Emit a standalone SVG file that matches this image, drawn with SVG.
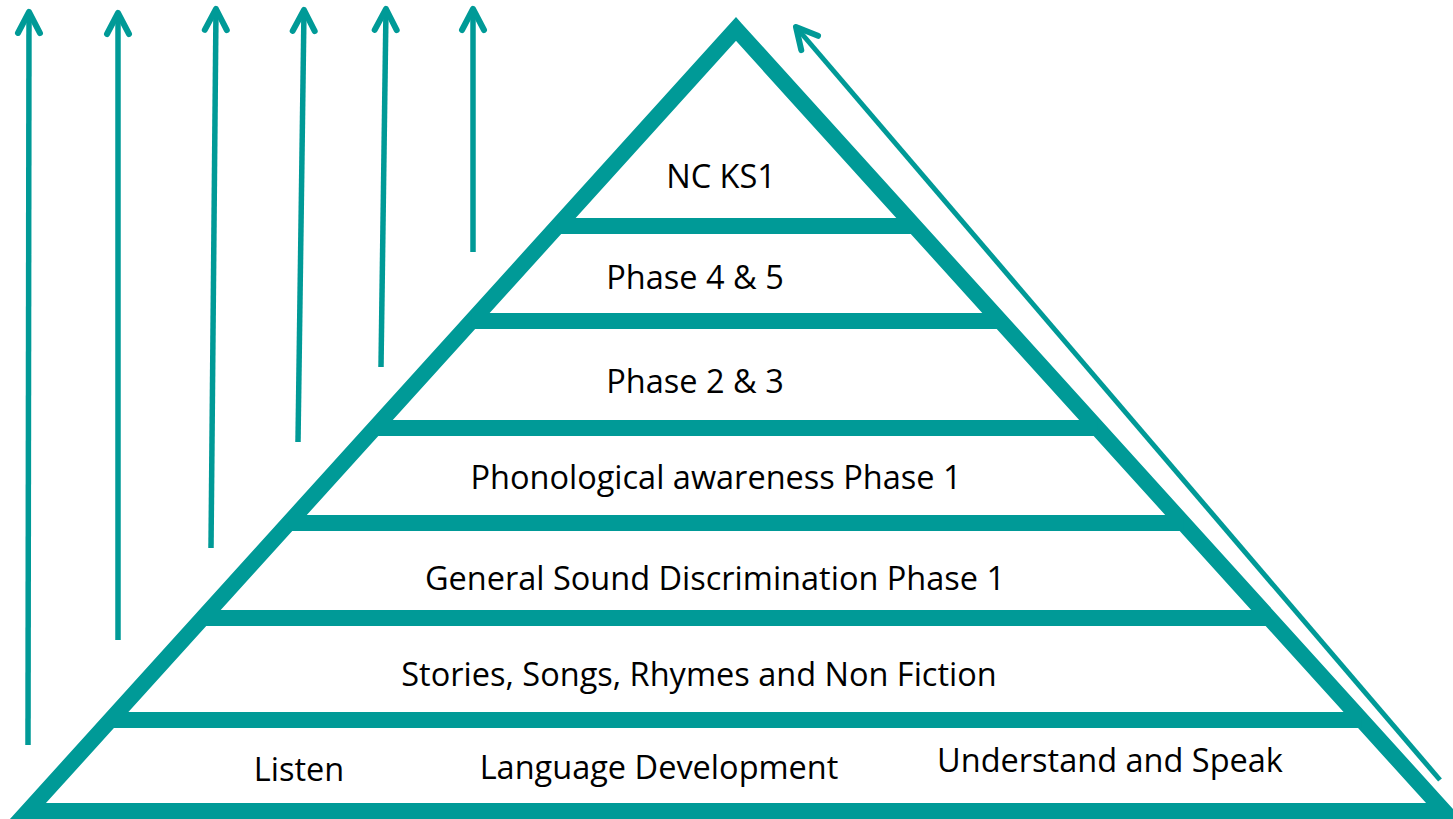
<svg xmlns="http://www.w3.org/2000/svg" width="1453" height="819" viewBox="0 0 1453 819">
  <style>
    .frame { fill: none; stroke: #009A97; stroke-width: 16; stroke-linejoin: miter; }
    .bar { stroke: #009A97; stroke-width: 16; stroke-linecap: butt; }
    .arrow { fill: none; stroke: #009A97; stroke-width: 5.5; marker-end: url(#head); }
    .lbl { font-family: "Open Sans", "Liberation Sans", sans-serif; font-size: 32.5px; fill: #000; text-anchor: middle; }
  </style>
  <defs>
    <marker id="head" markerUnits="userSpaceOnUse" orient="auto" refX="0" refY="0" markerWidth="60" markerHeight="60" viewBox="-30 -30 60 60" overflow="visible">
      <path d="M-21,-11 L0,0 L-21,11" fill="none" stroke="#009A97" stroke-width="6" stroke-linecap="round" stroke-linejoin="round"/>
    </marker>
  </defs>
  <rect width="1453" height="819" fill="#fff"/>

  <g id="pyramid">
    <path class="frame" d="M736,29 L1444,811 L28,811 Z"/>
    <line class="bar" x1="557.7" y1="226" x2="914.3" y2="226"/>
    <line class="bar" x1="471.7" y1="321" x2="1000.3" y2="321"/>
    <line class="bar" x1="374.9" y1="428" x2="1097.1" y2="428"/>
    <line class="bar" x1="288.9" y1="523" x2="1183.1" y2="523"/>
    <line class="bar" x1="203" y1="618" x2="1269" y2="618"/>
    <line class="bar" x1="110.6" y1="720" x2="1361.4" y2="720"/>
  </g>

  <g id="level-ncks1"><text class="lbl" x="721" y="188">NC KS1</text></g>
  <g id="level-phase45"><text class="lbl" x="695" y="289">Phase 4 &amp; 5</text></g>
  <g id="level-phase23"><text class="lbl" x="695" y="393">Phase 2 &amp; 3</text></g>
  <g id="level-phonological"><text class="lbl" x="716" y="489">Phonological awareness Phase 1</text></g>
  <g id="level-general"><text class="lbl" x="715" y="590">General Sound Discrimination Phase 1</text></g>
  <g id="level-stories"><text class="lbl" x="699" y="686">Stories, Songs, Rhymes and Non Fiction</text></g>
  <g id="level-base">
    <text class="lbl" x="299" y="781">Listen</text>
    <text class="lbl" x="659" y="779">Language Development</text>
    <text class="lbl" x="1110" y="772">Understand and Speak</text>
  </g>

  <g id="connectors">
    <line class="arrow" x1="28" y1="745" x2="29" y2="12"/>
    <line class="arrow" x1="118" y1="640" x2="118" y2="13"/>
    <line class="arrow" x1="211" y1="548" x2="216" y2="9"/>
    <line class="arrow" x1="298" y1="442" x2="304" y2="10"/>
    <line class="arrow" x1="381" y1="367" x2="386" y2="9"/>
    <line class="arrow" x1="473" y1="252" x2="473" y2="9"/>
    <line class="arrow" style="stroke-width:5" x1="1440" y1="780" x2="796" y2="27"/>
  </g>
</svg>
